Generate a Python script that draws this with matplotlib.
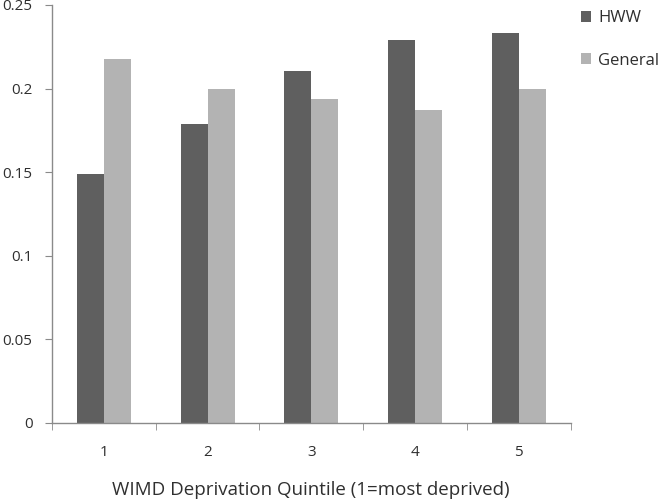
import matplotlib
matplotlib.use("Agg")
import matplotlib.pyplot as plt
import numpy as np

categories = ["1", "2", "3", "4", "5"]
hww = [0.149, 0.179, 0.2105, 0.229, 0.2335]
general = [0.218, 0.200, 0.194, 0.1875, 0.200]
yticks = [0, 0.05, 0.1, 0.15, 0.2, 0.25]
ytick_labels = ["0", "0.05", "0.1", "0.15", "0.2", "0.25"]

plt.rcParams['font.family'] = ['Open Sans', 'DejaVu Sans']

fig = plt.figure(figsize=(6.61, 5.04), dpi=100)
ax = fig.add_axes([52/661, 81/504, 518.5/661, 418/504])

x = np.arange(len(categories))
w = 0.26
dark = "#5f5f5f"
light = "#b3b3b3"
ax.bar(x - w/2, hww, width=w, color=dark, label="HWW")
ax.bar(x + w/2, general, width=w, color=light, label="General")

ax.set_xlim(-0.5, len(categories) - 0.5)
ax.set_ylim(0, 0.25)
ax.set_yticks(yticks)
ax.set_yticklabels(ytick_labels)
ax.set_xticks(x)
ax.set_xticklabels(categories)
ax.set_xticks(np.arange(len(categories) + 1) - 0.5, minor=True)

axis_col = "#8a8a8a"
txt = "#2f2f2f"
for s in ["top", "right"]:
    ax.spines[s].set_visible(False)
for s in ["left", "bottom"]:
    ax.spines[s].set_color(axis_col)
    ax.spines[s].set_linewidth(1.0)

ax.tick_params(axis="y", direction="out", length=5, color=axis_col, labelsize=11, labelcolor=txt, pad=9)
ax.tick_params(axis="x", which="major", length=0, labelsize=11, labelcolor=txt, pad=16)
ax.tick_params(axis="x", which="minor", direction="out", length=5, color=axis_col)

ax.set_xlabel("WIMD Deprivation Quintile (1=most deprived)", fontsize=13.5, color=txt, labelpad=15)

fig.legend(loc="upper left", bbox_to_anchor=(0.864, 1.0), frameon=False,
           fontsize=12, handlelength=0.62, handleheight=0.62, handletextpad=0.4,
           labelspacing=1.6, labelcolor=txt, borderaxespad=0.1, borderpad=0.5)

fig.savefig("out.png", dpi=100)
